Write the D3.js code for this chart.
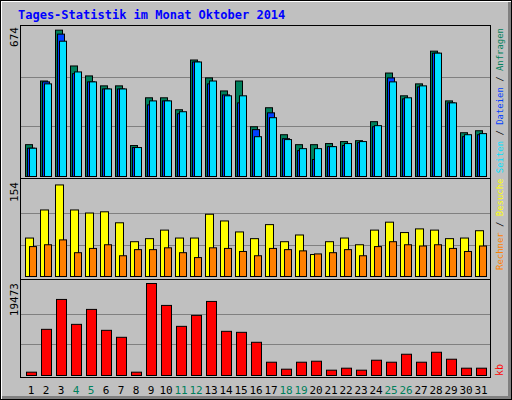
<!DOCTYPE html>
<html><head><meta charset="utf-8">
<script src="https://cdn.jsdelivr.net/npm/d3@7"></script>
<style>body{margin:0;background:#fff}text{font-family:"DejaVu Sans Mono",monospace}</style>
</head><body>
<svg id="chart" width="512" height="400"></svg>
<script>
// daily values
const days = d3.range(1, 32);
const weekend = [4, 5, 11, 12, 18, 19, 25, 26];
const hits  = [144,432,662,500,455,410,410,140,356,356,302,527,446,387,432,225,311,189,144,144,149,158,162,248,468,365,419,567,342,198,207];
const files = [128,428,644,465,428,396,396,131,324,342,284,518,419,369,333,212,288,171,117,77,135,140,153,225,446,351,405,558,333,180,189];
const pages = [128,419,612,473,428,396,396,131,342,342,293,518,432,365,365,180,266,167,126,126,135,149,158,230,428,356,410,558,333,189,194];
const visits = [63,109,150,109,104,106,88,57,62,76,63,63,102,91,73,62,85,57,68,36,57,63,52,76,89,72,78,76,62,63,75];
const sites  = [49,52,60,39,46,52,34,44,44,47,39,31,47,46,41,34,46,44,42,37,39,44,34,49,57,52,50,52,46,41,50];
const kbytes = [703,9772,16099,10826,13990,9561,8085,703,19473,14833,10404,12724,15677,9350,9139,7030,2812,1336,2812,3023,1125,1547,1125,3234,2812,4499,2812,4921,3445,1547,1547];

const svg = d3.select("#chart");

// background and frame
svg.append("rect").attr("x",0.5).attr("y",0.5).attr("width",511).attr("height",399).attr("fill","#c0c0c0").attr("stroke","#000");
svg.append("line").attr("x1",1).attr("y1",1.5).attr("x2",511).attr("y2",1.5).attr("stroke","#fff");
svg.append("line").attr("x1",1.5).attr("y1",1).attr("x2",1.5).attr("y2",399).attr("stroke","#fff");
svg.append("line").attr("x1",2).attr("y1",397.5).attr("x2",511).attr("y2",397.5).attr("stroke","#808080").attr("stroke-width",3);
svg.append("line").attr("x1",509.5).attr("y1",2).attr("x2",509.5).attr("y2",398).attr("stroke","#808080").attr("stroke-width",3);

svg.append("text").attr("x",18).attr("y",19).attr("fill","#0000ff").attr("font-weight","bold").attr("font-size",12)
  .text("Tages-Statistik im Monat Oktober 2014");

const x = d3.scaleBand().domain(days).range([21, 486]);

// outer box of the plot area
svg.append("rect").attr("x",20.5).attr("y",25.5).attr("width",470).attr("height",352).attr("fill","none").attr("stroke","#000");

function panel(top, bottom, max, label) {
  const y = d3.scaleLinear().domain([0, max]).range([bottom, top]);
  [max/3, max*2/3].forEach(v => {
    svg.append("line").attr("x1",21).attr("x2",490).attr("y1",Math.round(y(v))+0.5).attr("y2",Math.round(y(v))+0.5).attr("stroke","#808080");
  });
  svg.append("text").attr("transform",`translate(18,${top}) rotate(-90)`).attr("text-anchor","end")
    .attr("font-size",11).attr("fill","#000").text(label);
  return y;
}

function bars(data, y, off, w, color) {
  svg.append("g").selectAll("rect").data(data).join("rect")
    .attr("x", (d,i) => x(days[i]) + off + 0.5)
    .attr("y", d => y(d) + 0.5)
    .attr("width", w)
    .attr("height", d => y(0) - y(d))
    .attr("fill", color).attr("stroke","#000");
}

// top panel
const y1 = panel(27, 176, 674, "674");
bars(hits, y1, 4, 7, "#00805c");
bars(files, y1, 6, 7, "#0040ff");
bars(pages, y1, 8, 7, "#00e0ff");
svg.append("line").attr("x1",21).attr("x2",490).attr("y1",178.5).attr("y2",178.5).attr("stroke","#000");

// middle panel
const y2 = panel(182, 276, 154, "154");
bars(visits, y2, 4, 8, "#ffff00");
bars(sites, y2, 8, 7, "#ff8000");
svg.append("line").attr("x1",21).attr("x2",490).attr("y1",279.5).attr("y2",279.5).attr("stroke","#000");

// bottom panel
const y3 = panel(283, 375, 19473, "19473");
bars(kbytes, y3, 5, 10, "#ff0000");

// day labels
svg.append("g").selectAll("text").data(days).join("text")
  .attr("x", d => x(d) + 10).attr("y", 394).attr("text-anchor","middle").attr("font-size",11)
  .attr("fill", d => weekend.includes(d) ? "#00805c" : "#000").text(d => d);

// right side legend
const leg = svg.append("text").attr("transform","translate(503,270) rotate(-90)").attr("font-size",9)
  .attr("textLength",242).attr("lengthAdjust","spacingAndGlyphs");
[["Rechner","#ff8000"],[" / ","#000"],["Besuche ","#ffff00"],["Seiten","#00e0ff"],[" / ","#000"],["Dateien","#0040ff"],[" / ","#000"],["Anfragen","#00805c"]]
  .forEach(p => leg.append("tspan").attr("fill",p[1]).text(p[0]));
svg.append("text").attr("transform","translate(503,376) rotate(-90)").attr("font-size",10).attr("fill","#ff0000").text("kb");
</script>
</body></html>
